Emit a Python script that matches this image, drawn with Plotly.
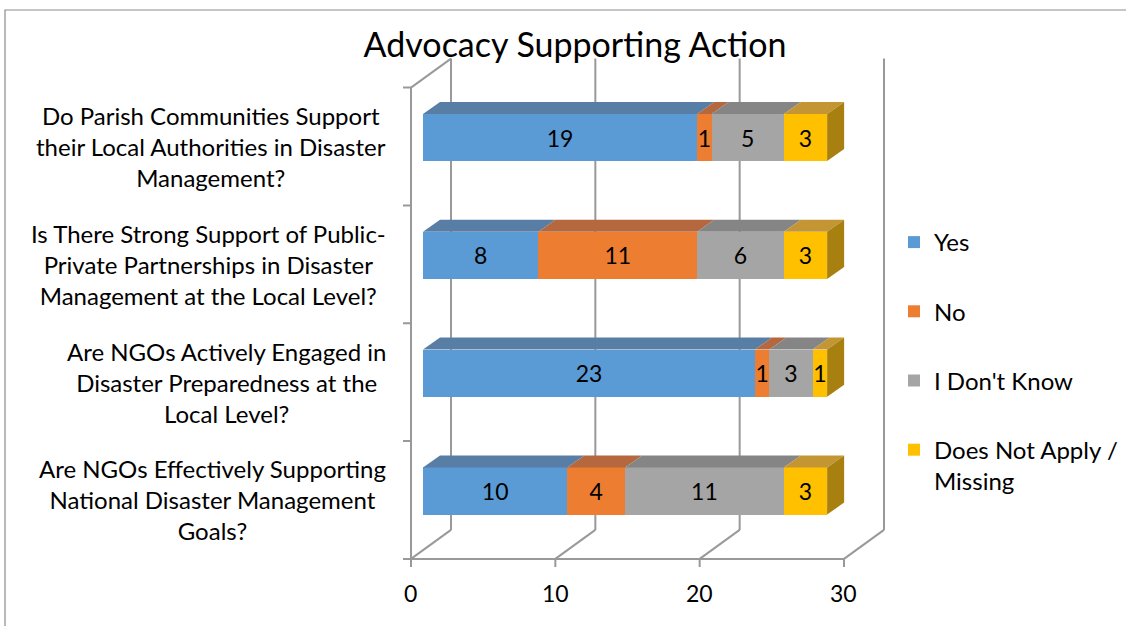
import plotly.graph_objects as go

# ---------------- data ----------------
categories = [
    "Do Parish Communities Support<br>their Local Authorities in Disaster<br>Management?",
    "Is There Strong Support of Public-<br>Private Partnerships in Disaster<br>Management at the Local Level?",
    "Are NGOs Actively Engaged in<br>Disaster Preparedness at the<br>Local Level?",
    "Are NGOs Effectively Supporting<br>National Disaster Management<br>Goals?",
]
series_names = ["Yes", "No", "I Don't Know", "Does Not Apply /<br>Missing"]
yes = [19, 8, 23, 10]
no = [1, 11, 1, 4]
dont_know = [5, 6, 3, 11]
not_apply = [3, 3, 1, 3]
x_ticks = [0, 10, 20, 30]
chart_title = "Advocacy Supporting Action"

# ---------------- style ----------------
FONT = "Lato"
front_colors = ["#5B9BD5", "#ED7D31", "#A5A5A5", "#FFC000"]
top_colors = ["#587EA6", "#B5673D", "#858585", "#C39633"]
side_color = "#A8800F"
grid_color = "#999999"

W, H = 1126, 626
PPX = 433 / 30.0          # pixels per value unit
PPY = 117.83              # pixels per category step
X0_PX, Y0_PX = 423, 491   # pixel of value 0 / lowest category on bar plane
XR = [-1.6, 33.0]
YR = [-0.75, 3.8]
FRONT = (-12, 9)          # px offset of front plane from bar plane (right, down)
BACK = (28, -20)          # px offset of back plane
DEPTH = (17, -12)         # px depth of bar

x_dom = [(X0_PX + XR[0] * PPX) / W, (X0_PX + XR[1] * PPX) / W]
y_dom = [1 - (Y0_PX - YR[0] * PPY) / H, 1 - (Y0_PX - YR[1] * PPY) / H]


def off(v, c, o):
    return v + o[0] / PPX, c - o[1] / PPY


n = len(categories)
ypos = [n - 1 - i for i in range(n)]
series = [yes, no, dont_know, not_apply]
BW = 0.4

fig = go.Figure()
for k, (name, vals) in enumerate(zip(series_names, series)):
    fig.add_trace(go.Bar(
        name=name, orientation="h", x=vals, y=ypos, width=BW,
        text=[str(v) for v in vals], textposition="inside",
        insidetextanchor="middle", textangle=0,
        textfont=dict(family=FONT, size=23, color="black"),
        marker=dict(color=front_colors[k], line=dict(width=0)),
        hovertext=[c.replace("<br>", " ") for c in categories],
        legendgroup=name,
    ))

shapes = []
line_style = dict(color=grid_color, width=2)


def seg(p, q, layer="below"):
    shapes.append(dict(type="line", xref="x", yref="y", x0=p[0], y0=p[1],
                       x1=q[0], y1=q[1], line=line_style, layer=layer))


lo, hi = -0.5, n - 0.5
# back wall verticals + floor diagonals
for v in x_ticks:
    seg(off(v, lo, BACK), off(v, hi, BACK))
    seg(off(v, lo, FRONT), off(v, lo, BACK))
# left wall
seg(off(0, lo, FRONT), off(0, hi, FRONT))
seg(off(0, hi, FRONT), off(0, hi, BACK))
# front floor line
seg(off(x_ticks[0], lo, FRONT), off(x_ticks[-1], lo, FRONT))
# category tick marks on left
for c in range(n + 1):
    p = off(0, c - 0.5, FRONT)
    seg((p[0] - 8 / PPX, p[1]), p)
# value tick marks at bottom
for v in x_ticks:
    p = off(v, lo, FRONT)
    seg(p, (p[0], p[1] - 8 / PPY))

# 3D faces of bars
for i in range(n):
    base = 0
    yc = ypos[i]
    yt = yc + BW / 2
    yb = yc - BW / 2
    for k, vals in enumerate(series):
        x0, x1 = base, base + vals[i]
        a = (x0, yt)
        b = (x1, yt)
        c2 = off(x1, yt, DEPTH)
        d = off(x0, yt, DEPTH)
        path = f"M{a[0]},{a[1]} L{b[0]},{b[1]} L{c2[0]},{c2[1]} L{d[0]},{d[1]} Z"
        shapes.append(dict(type="path", xref="x", yref="y", path=path,
                           fillcolor=top_colors[k], line=dict(width=0), layer="above"))
        base = x1
    # right side face
    p1 = (base, yb)
    p2 = (base, yt)
    p3 = off(base, yt, DEPTH)
    p4 = off(base, yb, DEPTH)
    path = f"M{p1[0]},{p1[1]} L{p2[0]},{p2[1]} L{p3[0]},{p3[1]} L{p4[0]},{p4[1]} Z"
    shapes.append(dict(type="path", xref="x", yref="y", path=path,
                       fillcolor=side_color, line=dict(width=0), layer="above"))

# chart border
shapes.append(dict(type="rect", xref="paper", yref="paper",
                   x0=5 / W, y0=-0.05, x1=1.05, y1=1 - 10 / H,
                   line=dict(color="#8C8C8C", width=1.2), layer="below"))

annotations = []
for i, cat in enumerate(categories):
    _, yy = off(0, ypos[i], FRONT)
    annotations.append(dict(text=cat, xref="paper", yref="y", x=388 / W, y=yy,
                            xanchor="right", yanchor="middle", align="center",
                            showarrow=False,
                            font=dict(family=FONT, size=24, color="black")))
for v in x_ticks:
    p = off(v, lo, FRONT)
    annotations.append(dict(text=str(v), xref="x", yref="y", x=p[0], y=p[1],
                            yshift=-34, xanchor="center", yanchor="middle",
                            showarrow=False,
                            font=dict(family=FONT, size=23, color="black")))

fig.update_layout(
    width=W, height=H, autosize=False,
    margin=dict(l=0, r=0, t=0, b=0),
    paper_bgcolor="white", plot_bgcolor="rgba(0,0,0,0)",
    barmode="stack",
    title=dict(text=chart_title, x=575 / W, xanchor="center",
               y=1 - 45 / H, yanchor="middle",
               font=dict(family=FONT, size=34, color="black")),
    xaxis=dict(domain=x_dom, range=XR, visible=False, showgrid=False, zeroline=False),
    yaxis=dict(domain=y_dom, range=YR, visible=False, showgrid=False, zeroline=False),
    shapes=shapes, annotations=annotations,
    uniformtext=dict(minsize=23, mode="show"),
    showlegend=True,
    legend=dict(x=894 / W, xanchor="left", y=1 - 220 / H, yanchor="top",
                traceorder="grouped", tracegroupgap=35, valign="top",
                bgcolor="rgba(0,0,0,0)",
                font=dict(family=FONT, size=24, color="black")),
    font=dict(family=FONT),
)

fig.write_html("out.html", config={"displayModeBar": False},
               post_script="document.body.style.margin='0px';")
